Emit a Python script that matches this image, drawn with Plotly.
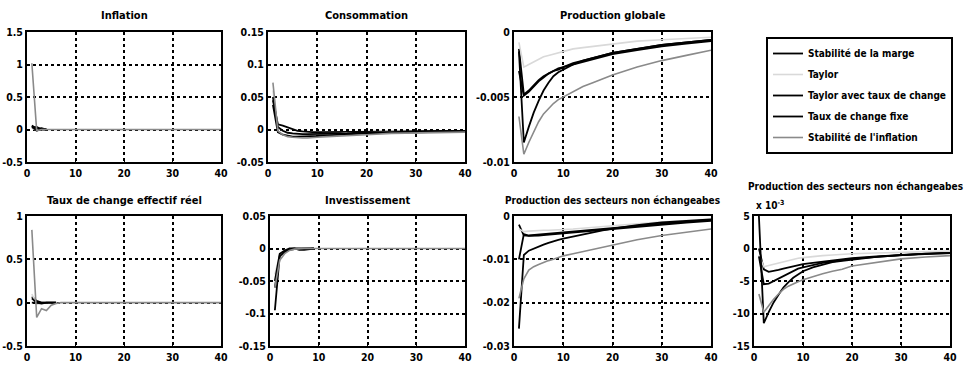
import plotly.graph_objects as go

# ---------------- data ----------------
series_names = ["Stabilité de la marge", "Taylor", "Taylor avec taux de change",
                "Taux de change fixe", "Stabilité de l'inflation"]
series_colors = ["#000000", "#d9d9d9", "#000000", "#000000", "#8a8a8a"]

periods = [1, 2, 3, 4, 5, 6, 7, 8, 9, 10, 12, 14, 16, 18, 20, 25, 30, 35, 40]

# Inflation
infl_x_short = [1, 2, 3, 4]
infl_marge = [0.06, 0.01, 0.02, 0.0]
infl_taylor = [0.02, -0.01, 0.0, 0.0]
infl_tchange = [0.05, -0.02, 0.01, 0.0]
infl_fixe = [0.03, 0.04, 0.0, 0.0]
infl_inflation = [1.02, -0.02, 0.0, 0.0, 0.0, 0.0, 0.0, 0.0, 0.0, 0.0, 0.0, 0.0, 0.0, 0.0, 0.0, 0.0, 0.0, 0.0, 0.0]

# Consommation
cons_marge = [0.045, 0.008, 0.006, 0.003, 0.0, -0.002, -0.003, -0.004, -0.004, -0.004, -0.004, -0.004, -0.004, -0.004, -0.003, -0.003, -0.003, -0.002, -0.002]
cons_taylor = [0.06, 0.003, -0.002, -0.005, -0.007, -0.008, -0.008, -0.008, -0.008, -0.008, -0.007, -0.007, -0.006, -0.006, -0.005, -0.004, -0.004, -0.003, -0.003]
cons_tchange = [0.05, 0.004, -0.002, -0.005, -0.006, -0.007, -0.007, -0.007, -0.007, -0.007, -0.007, -0.006, -0.006, -0.005, -0.005, -0.004, -0.003, -0.003, -0.002]
cons_fixe = [0.038, -0.004, -0.008, -0.01, -0.011, -0.011, -0.011, -0.011, -0.01, -0.01, -0.009, -0.008, -0.008, -0.007, -0.006, -0.005, -0.004, -0.003, -0.003]
cons_inflation = [0.072, -0.002, -0.008, -0.011, -0.012, -0.013, -0.013, -0.013, -0.012, -0.012, -0.011, -0.01, -0.009, -0.009, -0.008, -0.006, -0.005, -0.004, -0.004]

# Production globale
pg_marge = [-0.0013, -0.0048, -0.0045, -0.0041, -0.0037, -0.0034, -0.0032, -0.003, -0.0028, -0.0027, -0.0024, -0.0022, -0.002, -0.0018, -0.0016, -0.0013, -0.001, -0.0008, -0.0006]
pg_taylor = [-0.0008, -0.0027, -0.0025, -0.0023, -0.0021, -0.0019, -0.0018, -0.0017, -0.0016, -0.0015, -0.0013, -0.0012, -0.0011, -0.001, -0.0009, -0.0007, -0.0006, -0.0005, -0.0004]
pg_tchange = [-0.003, -0.0049, -0.0046, -0.0042, -0.0038, -0.0035, -0.0032, -0.003, -0.0029, -0.0027, -0.0025, -0.0023, -0.0021, -0.0019, -0.0017, -0.0014, -0.0011, -0.0009, -0.0007]
pg_fixe = [-0.0015, -0.0085, -0.0073, -0.0062, -0.0053, -0.0045, -0.0039, -0.0034, -0.0031, -0.0029, -0.0025, -0.0022, -0.002, -0.0018, -0.0016, -0.0013, -0.001, -0.0008, -0.0006]
pg_inflation = [-0.0065, -0.0094, -0.0085, -0.0077, -0.0069, -0.0063, -0.0059, -0.0055, -0.0052, -0.005, -0.0046, -0.0042, -0.0039, -0.0036, -0.0033, -0.0027, -0.0022, -0.0018, -0.0014]

# Taux de change effectif réel
tcer_x_short = [1, 2, 3, 4, 5, 6]
tcer_marge = [0.07, 0.02, 0.0, 0.0, 0.0, 0.0]
tcer_taylor = [0.1, -0.02, 0.0, 0.0, 0.0, 0.0]
tcer_tchange = [0.05, 0.0, -0.01, 0.0, 0.0, 0.0]
tcer_fixe = [0.0, 0.0, 0.0, 0.0, 0.0, 0.0]
tcer_inflation = [0.84, -0.17, -0.07, -0.09, -0.03, -0.01, 0.0, 0.0, 0.0, 0.0, 0.0, 0.0, 0.0, 0.0, 0.0, 0.0, 0.0, 0.0, 0.0]

# Investissement
inv_x_short = [1, 2, 3, 4, 5, 6, 7, 8, 9]
inv_marge = [-0.095, -0.01, -0.006, -0.002, -0.001, -0.001, -0.001, 0.0, 0.0]
inv_taylor = [-0.04, -0.01, -0.003, 0.0, 0.0, 0.0, 0.0, 0.0, 0.0]
inv_tchange = [-0.06, -0.012, -0.005, -0.001, 0.0, -0.002, -0.002, -0.001, 0.0]
inv_fixe = [-0.05, -0.008, -0.003, 0.0, 0.0, 0.0, 0.0, 0.0, 0.0]
inv_inflation = [-0.06, -0.018, -0.008, -0.003, -0.001, 0.0, 0.0, 0.0, 0.0, 0.0, 0.0, 0.0, 0.0, 0.0, 0.0, 0.0, 0.0, 0.0, 0.0]

# Production des secteurs non échangeables (left)
pne_marge = [-0.002, -0.0045, -0.0046, -0.0046, -0.0045, -0.0044, -0.0043, -0.0042, -0.0041, -0.004, -0.0038, -0.0036, -0.0033, -0.0031, -0.0029, -0.0024, -0.002, -0.0015, -0.0011]
pne_taylor = [-0.003, -0.0036, -0.0035, -0.0034, -0.0034, -0.0033, -0.0033, -0.0032, -0.0032, -0.0031, -0.003, -0.0028, -0.0026, -0.0024, -0.0022, -0.0018, -0.0014, -0.001, -0.0007]
pne_tchange = [-0.01, -0.0042, -0.0045, -0.0044, -0.0043, -0.0042, -0.0041, -0.004, -0.0039, -0.0038, -0.0036, -0.0034, -0.0032, -0.003, -0.0027, -0.0022, -0.0017, -0.0013, -0.0009]
pne_fixe = [-0.026, -0.009, -0.008, -0.0075, -0.007, -0.0066, -0.0062, -0.0058, -0.0055, -0.0052, -0.0047, -0.0042, -0.0037, -0.0033, -0.0029, -0.0021, -0.0015, -0.0011, -0.0008]
pne_inflation = [-0.019, -0.0145, -0.0125, -0.0117, -0.0112, -0.0107, -0.0103, -0.01, -0.0096, -0.0092, -0.0087, -0.0082, -0.0077, -0.0072, -0.0066, -0.0055, -0.0045, -0.0037, -0.003]

# Production des secteurs non échangeables (right, x 10^-3)
pne2_marge = [0.0, -0.0032, -0.0036, -0.0035, -0.0033, -0.0031, -0.0029, -0.0027, -0.0026, -0.0024, -0.0022, -0.002, -0.0018, -0.0017, -0.0015, -0.0012, -0.001, -0.0008, -0.0006]
pne2_taylor = [-0.001, -0.0028, -0.0026, -0.0024, -0.0022, -0.002, -0.0018, -0.0016, -0.0015, -0.0014, -0.0012, -0.0011, -0.001, -0.0009, -0.0008, -0.0007, -0.0006, -0.0005, -0.0004]
pne2_tchange = [-0.0012, -0.0055, -0.0054, -0.005, -0.0046, -0.0042, -0.0038, -0.0034, -0.0031, -0.0029, -0.0025, -0.0022, -0.002, -0.0018, -0.0016, -0.0013, -0.001, -0.0008, -0.0007]
pne2_fixe = [0.005, -0.0115, -0.0098, -0.0083, -0.0071, -0.006, -0.0052, -0.0045, -0.004, -0.0035, -0.0029, -0.0025, -0.0021, -0.0019, -0.0017, -0.0013, -0.001, -0.0008, -0.0007]
pne2_inflation = [-0.007, -0.0098, -0.0088, -0.0078, -0.007, -0.0063, -0.0058, -0.0054, -0.0051, -0.0048, -0.0043, -0.0039, -0.0035, -0.0032, -0.0027, -0.0021, -0.0016, -0.0013, -0.0011]

# titles and ticks
titles = ["Inflation", "Consommation", "Production globale",
          "Taux de change effectif réel", "Investissement",
          "Production des secteurs non échangeabes", "Production des secteurs non échangeabes"]
x_ticks = [0, 10, 20, 30, 40]
x_ticktext = ["0", "10", "20", "30", "40"]
infl_ticks = [1.5, 1, 0.5, 0, -0.5]
infl_ticktext = ["1.5", "1", "0.5", "0", "-0.5"]
cons_ticks = [0.15, 0.1, 0.05, 0, -0.05]
cons_ticktext = ["0.15", "0.1", "0.05", "0", "-0.05"]
pg_ticks = [0, -0.005, -0.01]
pg_ticktext = ["0", "-0.005", "-0.01"]
tcer_ticks = [1, 0.5, 0, -0.5]
tcer_ticktext = ["1", "0.5", "0", "-0.5"]
inv_ticks = [0.05, 0, -0.05, -0.1, -0.15]
inv_ticktext = ["0.05", "0", "-0.05", "-0.1", "-0.15"]
pne_ticks = [0, -0.01, -0.02, -0.03]
pne_ticktext = ["0", "-0.01", "-0.02", "-0.03"]
pne2_ticks = [0.005, 0, -0.005, -0.01, -0.015]
pne2_ticktext = ["5", "0", "-5", "-10", "-15"]

# ---------------- figure ----------------
W, H = 966, 368
FONT = "DejaVu Sans Condensed, Roboto, sans-serif"


def px_x(v):
    return v / W


def px_y(v):
    return 1 - v / H


fig = go.Figure()

panels = [
    ([infl_x_short] * 4 + [periods], [infl_marge, infl_taylor, infl_tchange, infl_fixe, infl_inflation],
     [-0.5, 1.5], infl_ticks, infl_ticktext, (27, 221, 32, 162)),
    ([periods] * 5, [cons_marge, cons_taylor, cons_tchange, cons_fixe, cons_inflation],
     [-0.05, 0.15], cons_ticks, cons_ticktext, (268, 465, 32, 162)),
    ([periods] * 5, [pg_marge, pg_taylor, pg_tchange, pg_fixe, pg_inflation],
     [-0.01, 0], pg_ticks, pg_ticktext, (514, 711, 32, 162)),
    ([tcer_x_short] * 4 + [periods], [tcer_marge, tcer_taylor, tcer_tchange, tcer_fixe, tcer_inflation],
     [-0.5, 1], tcer_ticks, tcer_ticktext, (27, 221, 216, 346)),
    ([inv_x_short] * 4 + [periods], [inv_marge, inv_taylor, inv_tchange, inv_fixe, inv_inflation],
     [-0.15, 0.05], inv_ticks, inv_ticktext, (270, 465, 216, 346)),
    ([periods] * 5, [pne_marge, pne_taylor, pne_tchange, pne_fixe, pne_inflation],
     [-0.03, 0], pne_ticks, pne_ticktext, (514, 711, 216, 346)),
    ([periods] * 5, [pne2_marge, pne2_taylor, pne2_tchange, pne2_fixe, pne2_inflation],
     [-0.015, 0.005], pne2_ticks, pne2_ticktext, (754, 950, 216, 346)),
]

axis_font = dict(family=FONT, size=10.5, color="black", weight="bold")
annotations = []
for i, (xs, ys, yr, yt, ytt, box) in enumerate(panels):
    n = i + 1
    xa = "x" if n == 1 else f"x{n}"
    ya = "y" if n == 1 else f"y{n}"
    for k in range(5):
        fig.add_trace(go.Scatter(
            x=xs[k], y=ys[k], mode="lines", xaxis=xa, yaxis=ya,
            name=series_names[k], legendgroup=series_names[k],
            showlegend=(n == 1),
            line=dict(color=series_colors[k], width=1.8 if series_colors[k] == "#000000" else 1.6),
        ))
    x0, x1, y0, y1 = box
    common = dict(showline=True, mirror=True, linecolor="black", linewidth=2,
                  showgrid=True, gridcolor="black", griddash="dot", gridwidth=1.5,
                  zeroline=False, ticks="inside", ticklen=3, tickcolor="black",
                  tickfont=axis_font, automargin=False)
    fig.layout[f"xaxis{'' if n == 1 else n}"] = dict(
        domain=[px_x(x0), px_x(x1)], anchor=ya, range=[0, 40],
        tickvals=x_ticks, ticktext=x_ticktext, **common)
    fig.layout[f"yaxis{'' if n == 1 else n}"] = dict(
        domain=[px_y(y1), px_y(y0)], anchor=xa, range=yr,
        tickvals=yt, ticktext=ytt, **common)
    ty = 186 if n == 7 else (y0 - 16)
    tx = 855 if n == 7 else (x0 + x1) / 2
    tsize = 10 if len(titles[i]) > 30 else 11
    annotations.append(dict(
        text=titles[i], xref="paper", yref="paper",
        x=px_x(tx), y=px_y(ty), xanchor="center", yanchor="middle",
        showarrow=False, font=dict(family=FONT, size=tsize, color="black", weight="bold")))

annotations.append(dict(
    text="x 10<sup>-3</sup>", xref="paper", yref="paper",
    x=px_x(754), y=px_y(205), xanchor="left", yanchor="middle", showarrow=False,
    font=dict(family=FONT, size=10, color="black", weight="bold")))

fig.update_layout(
    width=W, height=H, margin=dict(l=0, r=0, t=0, b=0, autoexpand=False),
    paper_bgcolor="white", plot_bgcolor="white",
    annotations=annotations,
    showlegend=True,
    legend=dict(x=px_x(766), y=px_y(37), xanchor="left", yanchor="top",
                bordercolor="black", borderwidth=2, bgcolor="white",
                font=dict(family=FONT, size=10, color="black", weight="bold"),
                tracegroupgap=2, itemwidth=30),
)

# remove the browser's default 8px page margin so the figure fills the window
fig.write_html("out.html", config={"displayModeBar": False},
               post_script="document.body.style.margin='0';")
